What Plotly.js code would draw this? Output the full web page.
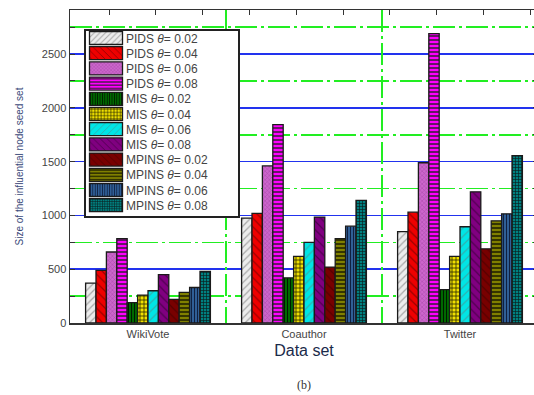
<!DOCTYPE html>
<html>
<head>
<meta charset="utf-8">
<script src="https://cdn.plot.ly/plotly-3.0.1.min.js"></script>
<style>
html,body{margin:0;padding:0;overflow:hidden;background:#fff;}
#chart{width:540px;height:395px;}
</style>
</head>
<body>
<div id="chart"></div>
<script>
// Data
const datasets = ['WikiVote', 'Coauthor', 'Twitter'];
const seriesNames = [
  'PIDS <i>θ</i>= 0.02', 'PIDS <i>θ</i>= 0.04', 'PIDS <i>θ</i>= 0.06', 'PIDS <i>θ</i>= 0.08',
  'MIS <i>θ</i>= 0.02', 'MIS <i>θ</i>= 0.04', 'MIS <i>θ</i>= 0.06', 'MIS <i>θ</i>= 0.08',
  'MPINS <i>θ</i>= 0.02', 'MPINS <i>θ</i>= 0.04', 'MPINS <i>θ</i>= 0.06', 'MPINS <i>θ</i>= 0.08'
];
const wikiVote = [370, 490, 660, 785, 190, 260, 300, 450, 220, 285, 330, 480];
const coauthor = [975, 1020, 1460, 1845, 420, 620, 750, 985, 520, 785, 900, 1140];
const twitter  = [850, 1030, 1490, 2690, 310, 620, 895, 1220, 690, 950, 1015, 1555];
const yTickVals = [0, 500, 1000, 1500, 2000, 2500];

// Styles
const styles = [
  {bg: '#ececec', fg: '#a8a8a8', shape: '/', size: 5, sol: 0.25},
  {bg: '#ee0000', fg: '#9a0000', shape: '\\', size: 6, sol: 0.2},
  {bg: '#cc66cc', fg: '#a848a8', shape: 'x', size: 3, sol: 0.3},
  {bg: '#ff00ff', fg: '#222222', shape: '-', size: 4, sol: 0.35},
  {bg: '#007000', fg: '#001a00', shape: '|', size: 3, sol: 0.4},
  {bg: '#f0e000', fg: '#222200', shape: '+', size: 4, sol: 0.35},
  {bg: '#00e5e5', fg: '#30b0b0', shape: '/', size: 6, sol: 0.2},
  {bg: '#800080', fg: '#500050', shape: '\\', size: 6, sol: 0.2},
  {bg: '#780000', fg: '#560000', shape: '\\', size: 6, sol: 0.2},
  {bg: '#808000', fg: '#222200', shape: '-', size: 4, sol: 0.4},
  {bg: '#3366a0', fg: '#102040', shape: '|', size: 3, sol: 0.4},
  {bg: '#008080', fg: '#0a2020', shape: '+', size: 3, sol: 0.4}
];

const traces = seriesNames.map((name, i) => ({
  type: 'bar',
  name: name,
  x: datasets,
  y: [wikiVote[i], coauthor[i], twitter[i]],
  marker: {
    color: styles[i].bg,
    line: {color: '#1a1a1a', width: 1.3},
    pattern: {shape: styles[i].shape, fgcolor: styles[i].fg, bgcolor: styles[i].bg, size: styles[i].size, solidity: styles[i].sol, fillmode: 'replace'}
  },
  xaxis: 'x',
  yaxis: 'y'
}));

// invisible trace to activate the overlay axis for vertical grid lines
traces.push({type: 'scatter', x: [0.5, 1.5], y: [0, 0], xaxis: 'x2', yaxis: 'y', mode: 'none', showlegend: false, hoverinfo: 'skip'});

const greenDash = '22px,4px,3px,4px';

const layout = {
  width: 540,
  height: 395,
  margin: {l: 70, r: 2, t: 10, b: 72},
  paper_bgcolor: '#ffffff',
  plot_bgcolor: '#ffffff',
  barmode: 'group',
  bargap: 0.2,
  bargroupgap: 0,
  font: {family: 'Liberation Sans, Arial, sans-serif', color: '#333'},
  showlegend: true,
  legend: {
    x: 0.03, y: 0.94, xanchor: 'left', yanchor: 'top',
    bgcolor: '#ffffff', bordercolor: '#222', borderwidth: 1.5,
    font: {size: 12, color: '#444'},
    tracegroupgap: 0,
    itemwidth: 30
  },
  xaxis: {
    type: 'category',
    range: [-0.5, 2.5],
    showgrid: false,
    showline: true, linecolor: '#333', linewidth: 1.5,
    mirror: true,
    ticks: '',
    tickfont: {size: 11, color: '#444'},
    title: {text: 'Data set', font: {size: 16, color: '#1a2a4a'}, standoff: 6},
    zeroline: false
  },
  xaxis2: {
    overlaying: 'x',
    side: 'top',
    range: [-0.5, 2.5],
    tick0: 0.5, dtick: 1,
    showgrid: true, gridcolor: '#22ee22', gridwidth: 1.5, griddash: greenDash,
    showticklabels: false,
    ticks: 'inside', ticklen: 0,
    minor: {ticks: 'inside', ticklen: 5, dtick: 0.3, tick0: -0.25, tickcolor: '#333', showgrid: false},
    zeroline: false,
    showline: false
  },
  yaxis: {
    range: [0, 2910],
    tickvals: yTickVals,
    showgrid: true, gridcolor: '#2233ee', gridwidth: 1.5,
    minor: {dtick: 250, showgrid: true, gridcolor: '#22ee22', gridwidth: 1.5, griddash: greenDash, ticks: 'inside', ticklen: 3, tickcolor: '#333'},
    showline: true, linecolor: '#333', linewidth: 1.5,
    mirror: 'allticks',
    ticks: 'inside', ticklen: 5, tickcolor: '#333',
    tickfont: {size: 11, color: '#444'},
    title: {text: 'Size of the influential node seed set', font: {size: 10, color: '#3b4a7a'}, standoff: 16},
    zeroline: false
  },
  annotations: [{
    text: '(b)', xref: 'paper', yref: 'paper', x: 0.5, y: -0.198, yanchor: 'middle', showarrow: false,
    font: {family: 'Liberation Serif, Times New Roman, serif', size: 12, color: '#333'}
  }]
};

// Compact the legend (Plotly enforces a 19px minimum row height)
function compactLegend(gd) {
  const leg = gd.querySelector('g.legend');
  if (!leg) return;
  const boxX = 84, boxY = 29, boxW = 154, boxH = 187;
  const firstRow = 9, rowH = 15.2;
  leg.setAttribute('transform', 'translate(' + boxX + ',' + boxY + ')');
  const bg = leg.querySelector('rect.bg');
  if (bg) {
    bg.setAttribute('x', 0.75); bg.setAttribute('y', 0.75);
    bg.setAttribute('width', boxW); bg.setAttribute('height', boxH);
  }
  const sb = leg.querySelector('g.scrollbox');
  if (sb) sb.setAttribute('transform', 'translate(0,0)');
  const groups = leg.querySelectorAll('g.groups');
  groups.forEach(g => g.setAttribute('transform', 'translate(0,0)'));
  const items = leg.querySelectorAll('g.traces');
  items.forEach((g, i) => {
    g.setAttribute('transform', 'translate(0,' + (firstRow + i * rowH) + ')');
    g.querySelectorAll('g.legendpoints path').forEach(p => {
      p.setAttribute('d', 'M16.5,6.5H-16.5V-6.5H16.5Z');
      p.setAttribute('transform', 'translate(22,0)');
    });
    const t = g.querySelector('text.legendtext');
    if (t) {
      t.setAttribute('x', 42);
      t.querySelectorAll('tspan[x]').forEach(s => s.setAttribute('x', 42));
    }
  });
}

const gd = document.getElementById('chart');
Plotly.newPlot(gd, traces, layout, {displayModeBar: false, staticPlot: true}).then(() => compactLegend(gd));
</script>
</body>
</html>
